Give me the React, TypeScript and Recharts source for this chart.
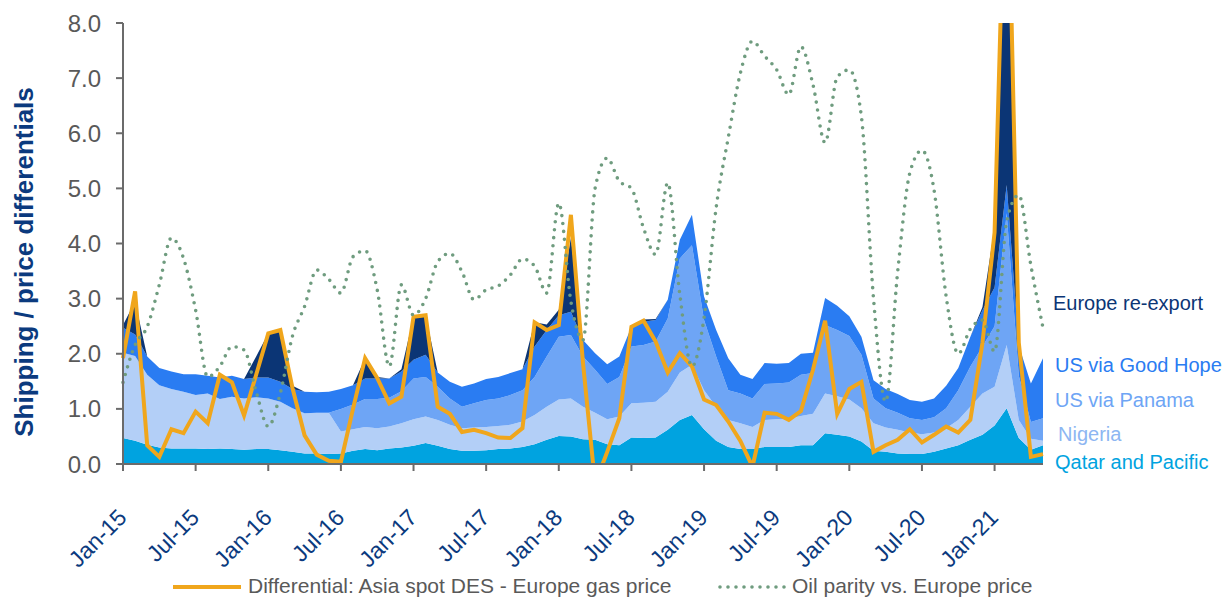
import { ComposedChart, Area, Line, XAxis, YAxis } from 'recharts';

const FONT = "'Liberation Sans', Arial, sans-serif";
const NAVY = '#0b3a7e';
const GREY = '#595959';

const MONTH_NAMES = ['Jan', 'Feb', 'Mar', 'Apr', 'May', 'Jun', 'Jul', 'Aug', 'Sep', 'Oct', 'Nov', 'Dec'];
const YEARS = ['15', '16', '17', '18', '19', '20', '21'];
const MONTH_COUNT = 77; // Jan-15 .. May-21

const months: string[] = [];
for (let i = 0; i < MONTH_COUNT; i++) {
  months.push(`${MONTH_NAMES[i % 12]}-${YEARS[Math.floor(i / 12)]}`);
}

// stacked shipping cost components, $/MMBtu
const qatarPacific = [
  0.47, 0.42, 0.35, 0.3, 0.28, 0.28, 0.28, 0.27, 0.28, 0.27, 0.26, 0.27,
  0.27, 0.25, 0.22, 0.19, 0.19, 0.18, 0.19, 0.24, 0.27, 0.25, 0.28, 0.3,
  0.33, 0.38, 0.33, 0.27, 0.24, 0.24, 0.25, 0.27, 0.28, 0.31, 0.36, 0.44,
  0.51, 0.5, 0.45, 0.44, 0.36, 0.34, 0.48, 0.47, 0.48, 0.62, 0.8, 0.89,
  0.63, 0.42, 0.31, 0.27, 0.27, 0.31, 0.31, 0.31, 0.34, 0.34, 0.56, 0.53,
  0.5, 0.41, 0.24, 0.22, 0.19, 0.18, 0.18, 0.22, 0.28, 0.34, 0.44, 0.53,
  0.7, 1.01, 0.47, 0.26, 0.34,
];
const nigeria = [
  1.55, 1.54, 1.27, 1.13, 1.08, 1.03, 0.97, 1.01, 0.9, 0.95, 0.93, 0.94,
  0.92, 0.88, 0.79, 0.73, 0.74, 0.75, 0.4, 0.39, 0.4, 0.4, 0.4, 0.44,
  0.48, 0.48, 0.47, 0.44, 0.41, 0.42, 0.42, 0.42, 0.43, 0.46, 0.53, 0.6,
  0.66, 0.69, 0.59, 0.49, 0.45, 0.52, 0.62, 0.64, 0.65, 0.69, 0.86, 0.91,
  0.71, 0.62, 0.49, 0.47, 0.4, 0.49, 0.5, 0.51, 0.53, 0.57, 0.72, 0.7,
  0.67, 0.6, 0.5, 0.44, 0.43, 0.39, 0.36, 0.35, 0.37, 0.46, 0.6, 0.75,
  0.7, 1.15, 0.33, 0.2, 0.08,
];
const usPanama = [
  0, 0, 0, 0, 0, 0, 0, 0, 0, 0, 0, 0,
  0, 0, 0, 0, 0, 0, 0.41, 0.45, 0.51, 0.53, 0.52, 0.58,
  0.74, 0.72, 0.6, 0.48, 0.39, 0.44, 0.49, 0.5, 0.54, 0.57, 0.69, 0.91,
  1.14, 1.15, 0.91, 0.78, 0.64, 0.72, 1.03, 1.05, 1.09, 1.33, 2.07, 2.17,
  1.27, 0.91, 0.54, 0.54, 0.52, 0.65, 0.65, 0.66, 0.75, 0.74, 1.24, 1.2,
  1.15, 0.97, 0.45, 0.35, 0.31, 0.26, 0.26, 0.28, 0.36, 0.54, 0.73, 0.85,
  1.1, 2.39, 0.8, 0.3, 0.41,
];
const usGoodHope = [
  0.45, 0.39, 0.33, 0.31, 0.32, 0.32, 0.38, 0.32, 0.39, 0.38, 0.35, 0.36,
  0.38, 0.36, 0.35, 0.39, 0.37, 0.38, 0.36, 0.35, 0.37, 0.37, 0.35, 0.36,
  0.34, 0.4, 0.26, 0.3, 0.36, 0.36, 0.38, 0.39, 0.4, 0.38, 0.55, 0.48,
  0.39, 0.42, 0.3, 0.3, 0.36, 0.37, 0.36, 0.42, 0.39, 0.34, 0.34, 0.55,
  0.43, 0.48, 0.58, 0.34, 0.35, 0.38, 0.36, 0.35, 0.38, 0.37, 0.49, 0.44,
  0.36, 0.33, 0.33, 0.35, 0.34, 0.33, 0.33, 0.34, 0.41, 0.4, 0.54, 0.66,
  0.7, 0.51, 0.55, 0.7, 1.09,
];
const europeReexport = [
  0.05, 0.6, 0, 0, 0, 0, 0, 0, 0, 0, 0, 0.38,
  0.8, 0.93, 0.06, 0, 0, 0, 0, 0, 0.37, 0.03, 0, 0.04,
  0.78, 0.72, 0, 0, 0, 0, 0, 0, 0, 0, 0.44, 0.1,
  0.1, 1.34, 0, 0, 0, 0, 0, 0.04, 0.02, 0, 0, 0,
  0, 0, 0, 0, 0, 0, 0, 0, 0, 0, 0, 0,
  0, 0, 0, 0, 0, 0, 0, 0, 0, 0, 0, 0.06,
  1.1, 6.5, 0, 0, 0,
];

// price lines
const asiaEuropeDiff = [
  1.92, 3.13, 0.34, 0.13, 0.63, 0.56, 0.95, 0.74, 1.62, 1.48, 0.88, 1.62,
  2.37, 2.43, 1.38, 0.52, 0.17, 0.06, 0.04, 1.0, 1.92, 1.56, 1.1, 1.22,
  2.67, 2.7, 1.04, 0.91, 0.58, 0.62, 0.56, 0.48, 0.47, 0.65, 2.57, 2.43,
  2.52, 4.52, 1.83, -0.36, 0.22, 0.83, 2.49, 2.6, 2.22, 1.66, 2.01, 1.77,
  1.17, 1.07, 0.77, 0.42, -0.05, 0.93, 0.91, 0.8, 0.96, 1.71, 2.6, 0.91,
  1.36, 1.49, 0.22, 0.34, 0.44, 0.63, 0.39, 0.53, 0.68, 0.57, 0.8, 2.2,
  4.2, 12.0, 2.2, 0.13, 0.18,
];
const oilParity = [
  1.48, 2.16, 2.49, 3.25, 4.1, 3.73, 2.79, 1.58, 1.77, 2.13, 2.07, 1.31,
  0.68, 1.29, 2.32, 2.86, 3.52, 3.35, 3.1, 3.76, 3.87, 3.16, 1.77, 3.25,
  2.7, 3.0, 3.67, 3.82, 3.49, 2.98, 3.16, 3.23, 3.43, 3.72, 3.59, 3.1,
  4.73, 2.95, 2.25, 5.0, 5.55, 5.13, 5.0, 4.28, 3.8, 5.1, 3.07, 1.77,
  2.65, 4.65, 5.92, 7.09, 7.67, 7.4, 7.15, 6.7, 7.57, 6.88, 5.83, 7.02,
  7.15, 6.3, 3.0, 1.13, 3.5, 5.28, 5.69, 4.97, 3.04, 2.0, 2.45, 2.61,
  2.04, 4.4, 4.88, 3.6, 2.47,
];

const yTicks = [0, 1, 2, 3, 4, 5, 6, 7, 8];

const data = months.map((month, i) => ({
  month,
  qatar: qatarPacific[i],
  nigeria: nigeria[i],
  panama: usPanama[i],
  goodHope: usGoodHope[i],
  europe: europeReexport[i],
  diff: asiaEuropeDiff[i],
  oil: oilParity[i],
}));

const stackLabels = [
  { text: 'Europe re-export', color: '#0b3575', x: 1053, y: 303 },
  { text: 'US via Good Hope', color: '#2a7cf2', x: 1055, y: 365 },
  { text: 'US via Panama', color: '#6ea5f5', x: 1055, y: 400 },
  { text: 'Nigeria', color: '#8db6f2', x: 1058, y: 434 },
  { text: 'Qatar and Pacific', color: '#00a3e0', x: 1055, y: 462 },
];

function MonthTick(props: any) {
  const { x, y, payload } = props;
  const tx = x + 5;
  const ty = y + 46;
  return (
    <text
      x={tx}
      y={ty}
      transform={`rotate(-45 ${tx} ${ty})`}
      textAnchor="end"
      fontSize={23}
      fill={NAVY}
      fontFamily={FONT}
    >
      {payload.value}
    </text>
  );
}

export default function App() {
  return (
    <div
      style={{
        position: 'absolute',
        left: 0,
        top: 0,
        width: 1229,
        height: 597,
        overflow: 'hidden',
        background: '#fff',
        fontFamily: FONT,
      }}
    >
      <ComposedChart
        width={1229}
        height={597}
        data={data}
        margin={{ top: 23, right: 186, bottom: 53, left: 63 }}
      >
        <XAxis
          dataKey="month"
          scale="point"
          interval={5}
          height={80}
          tickSize={7}
          tick={<MonthTick />}
          axisLine={{ stroke: '#6b6b6b', strokeWidth: 2 }}
          tickLine={{ stroke: '#6b6b6b', strokeWidth: 2 }}
        />
        <YAxis
          type="number"
          domain={[0, 8]}
          ticks={yTicks}
          allowDataOverflow
          width={60}
          tickSize={7}
          tickMargin={15}
          tickFormatter={(v: number) => v.toFixed(1)}
          tick={{ fill: GREY, fontSize: 24, fontFamily: FONT }}
          axisLine={{ stroke: '#6b6b6b', strokeWidth: 2 }}
          tickLine={{ stroke: '#6b6b6b', strokeWidth: 2 }}
        />
        <Area type="linear" dataKey="qatar" stackId="ship" fill="#00a3e0" fillOpacity={1} stroke="none" isAnimationActive={false} />
        <Area type="linear" dataKey="nigeria" stackId="ship" fill="#b3cff7" fillOpacity={1} stroke="none" isAnimationActive={false} />
        <Area type="linear" dataKey="panama" stackId="ship" fill="#6ea5f5" fillOpacity={1} stroke="none" isAnimationActive={false} />
        <Area type="linear" dataKey="goodHope" stackId="ship" fill="#2a7cf2" fillOpacity={1} stroke="none" isAnimationActive={false} />
        <Area type="linear" dataKey="europe" stackId="ship" fill="#0b3575" fillOpacity={1} stroke="none" isAnimationActive={false} />
        <Line
          type="linear"
          dataKey="diff"
          stroke="#f0a61c"
          strokeWidth={4}
          dot={false}
          activeDot={false}
          isAnimationActive={false}
        />
        <Line
          type="monotone"
          dataKey="oil"
          stroke="#6f9c7f"
          strokeWidth={3.6}
          strokeDasharray="0 8"
          strokeLinecap="round"
          dot={false}
          activeDot={false}
          isAnimationActive={false}
        />
      </ComposedChart>

      <div
        style={{
          position: 'absolute',
          left: 24,
          top: 262,
          transform: 'translate(-50%, -50%) rotate(-90deg)',
          whiteSpace: 'nowrap',
          fontSize: 26,
          fontWeight: 'bold',
          color: NAVY,
        }}
      >
        Shipping / price differentials
      </div>

      {stackLabels.map((l) => (
        <div
          key={l.text}
          style={{
            position: 'absolute',
            left: l.x,
            top: l.y - 12,
            lineHeight: '24px',
            fontSize: 20,
            color: l.color,
            whiteSpace: 'nowrap',
          }}
        >
          {l.text}
        </div>
      ))}

      <div style={{ position: 'absolute', left: 173, top: 585, width: 68, height: 4, background: '#f0a61c' }} />
      <div style={{ position: 'absolute', left: 248, top: 576, lineHeight: '20px', fontSize: 21, color: GREY, whiteSpace: 'nowrap' }}>
        Differential: Asia spot DES - Europe gas price
      </div>
      <svg style={{ position: 'absolute', left: 716, top: 581 }} width={76} height={12}>
        <line x1={4} y1={6} x2={72} y2={6} stroke="#6f9c7f" strokeWidth={3.6} strokeDasharray="0 8" strokeLinecap="round" />
      </svg>
      <div style={{ position: 'absolute', left: 792, top: 576, lineHeight: '20px', fontSize: 21, color: GREY, whiteSpace: 'nowrap' }}>
        Oil parity vs. Europe price
      </div>
    </div>
  );
}
